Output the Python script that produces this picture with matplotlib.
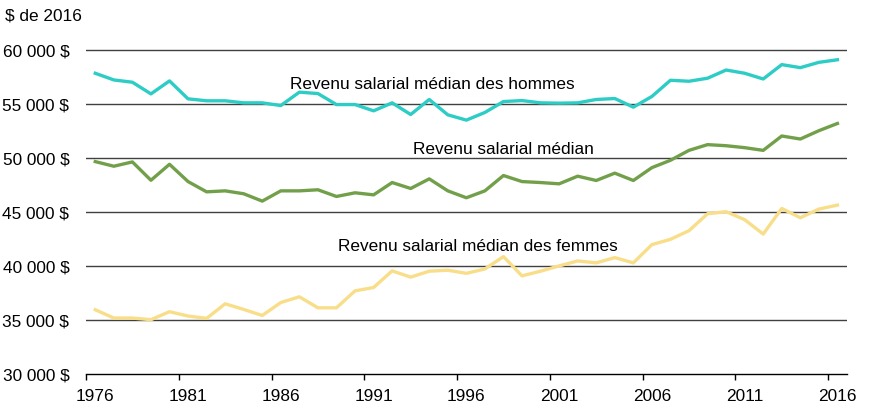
import numpy as np
import matplotlib
matplotlib.use("Agg")
import matplotlib.pyplot as plt
from matplotlib.ticker import FuncFormatter

plt.rcParams['font.family'] = ['Liberation Sans', 'DejaVu Sans']

years = np.arange(1976, 2017)

hommes = [57850, 57230, 57020, 55940, 57140, 55480, 55300, 55300, 55110, 55110,
          54860, 56100, 55970, 54950, 54950, 54370, 55110, 54030, 55420, 54000,
          53510, 54220, 55230, 55320, 55110, 55080, 55110, 55420, 55510, 54710,
          55700, 57200, 57110, 57390, 58150, 57850, 57320, 58650, 58370, 58860,
          59100]
median = [49670, 49240, 49640, 47940, 49420, 47820, 46870, 46960, 46690, 46010,
          46960, 46960, 47060, 46440, 46780, 46590, 47730, 47180, 48070, 46960,
          46320, 46960, 48380, 47820, 47730, 47610, 48320, 47920, 48600, 47920,
          49110, 49790, 50710, 51240, 51140, 50960, 50710, 52040, 51760, 52530,
          53200]
femmes = [35950, 35180, 35180, 35030, 35770, 35370, 35150, 36500, 35980, 35420,
          36620, 37150, 36130, 36130, 37700, 38010, 39550, 38970, 39520, 39610,
          39320, 39730, 40870, 39090, 39520, 40010, 40470, 40290, 40780, 40290,
          41980, 42470, 43270, 44840, 45030, 44290, 42960, 45330, 44470, 45270,
          45640]

fig = plt.figure(figsize=(8.71, 4.18), dpi=100)
ax = fig.add_axes([86/871, 1-374/418, (846.7-86)/871, (374-46.8)/418])

for v in range(35000, 60001, 5000):
    ax.axhline(v, color='#404040', lw=1.0, zorder=1)

ax.plot(years, hommes, color='#2DCDC5', lw=2.4, zorder=3)
ax.plot(years, median, color='#72A04A', lw=2.4, zorder=3)
ax.plot(years, femmes, color='#F9DE8A', lw=2.4, zorder=3)

ax.set_xlim(1975.5, 2016.5)
ax.set_ylim(30000, 60300)

ax.set_xticks(np.arange(1976, 2017, 5))
ax.set_xticks(np.arange(1975.5, 2016, 5), minor=True)
ax.tick_params(axis='x', which='major', length=0, pad=11, labelsize=12.4, colors='black')
ax.tick_params(axis='x', which='minor', length=4, width=1, color='black')
ax.set_yticks(np.arange(30000, 60001, 5000))
ax.yaxis.set_major_formatter(FuncFormatter(lambda v, p: '{:,.0f} $'.format(v).replace(',', ' ')))
ax.tick_params(axis='y', length=0, pad=12, labelsize=12.4)

for s in ['top', 'right', 'left']:
    ax.spines[s].set_visible(False)
ax.spines['bottom'].set_color('black')
ax.spines['bottom'].set_linewidth(1.0)

fs = 12.4
ax.text(1986.5, 56850, 'Revenu salarial médian des hommes', fontsize=fs, va='center')
ax.text(1993.1, 50800, 'Revenu salarial médian', fontsize=fs, va='center')
ax.text(1989.1, 41830, 'Revenu salarial médian des femmes', fontsize=fs, va='center')

fig.text(5/871, 1-16/418, '$ de 2016', fontsize=12.4, va='center', ha='left')

fig.savefig('out.png', dpi=100)
